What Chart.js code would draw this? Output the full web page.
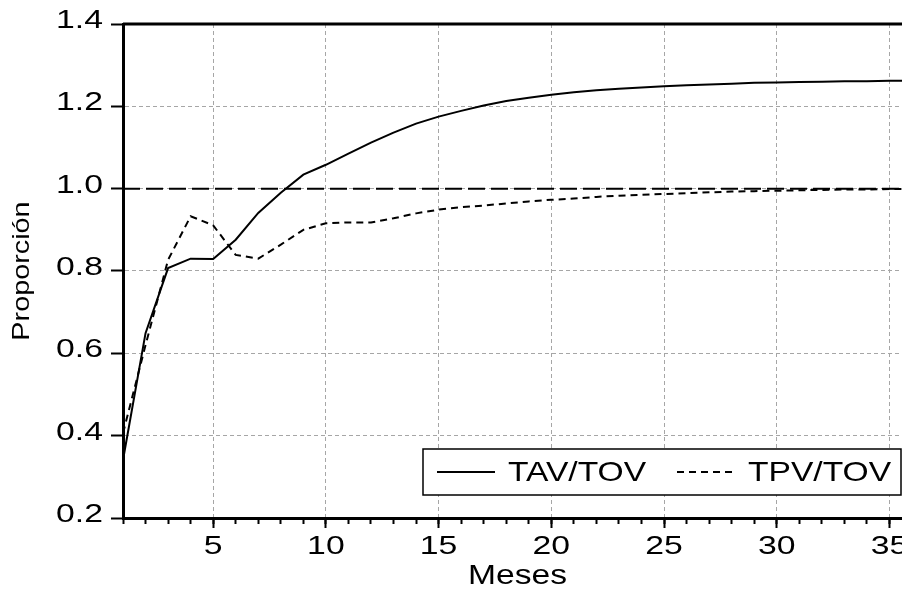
<!DOCTYPE html>
<html>
<head>
<meta charset="utf-8">
<script src="https://cdn.jsdelivr.net/npm/chart.js@4.4.1/dist/chart.umd.min.js"></script>
<style>
    html, body { margin: 0; padding: 0; background: #fff; }
    #wrap { width: 902px; height: 590px; overflow: hidden; }
</style>
</head>
<body>
<div id="wrap"><canvas id="propChart" width="930" height="590"></canvas></div>
<script>
const months = [1, 2, 3, 4, 5, 6, 7, 8, 9, 10, 11, 12, 13, 14, 15, 16, 17, 18,
    19, 20, 21, 22, 23, 24, 25, 26, 27, 28, 29, 30, 31, 32, 33, 34, 35, 36];
const tavTov = [0.341, 0.649, 0.807, 0.830, 0.829, 0.876, 0.941, 0.990, 1.034, 1.058, 1.085, 1.112,
    1.136, 1.158, 1.175, 1.189, 1.202, 1.213, 1.221, 1.228, 1.234, 1.239, 1.243, 1.246,
    1.249, 1.251, 1.253, 1.255, 1.257, 1.258, 1.259, 1.260, 1.261, 1.261, 1.262, 1.262];
const tpvTov = [0.406, 0.620, 0.827, 0.933, 0.911, 0.839, 0.830, 0.864, 0.900, 0.916, 0.918, 0.918,
    0.928, 0.940, 0.949, 0.955, 0.959, 0.964, 0.969, 0.973, 0.976, 0.980, 0.983, 0.985,
    0.987, 0.989, 0.991, 0.993, 0.994, 0.995, 0.996, 0.997, 0.998, 0.998, 0.999, 0.999];
const refLevel = 1.0;
const xMajorTicks = [5, 10, 15, 20, 25, 30, 35];
const yTicks = [0.2, 0.4, 0.6, 0.8, 1.0, 1.2, 1.4];

const FONT = '"Liberation Sans", Arial, sans-serif';
const GRID_GREY = '#a6a6a6';

const toPoints = (vals) => vals.map((v, i) => ({x: months[i], y: v}));

// the series shown in the key (the 1.0 line is left out)
const series = [
    {label: 'TAV/TOV', data: tavTov, dash: []},
    {label: 'TPV/TOV', data: tpvTov, dash: [7, 5]},
];

// glyphs come out wider than plain Arial, so stretch text along its baseline
const wideText = {
    id: 'wideText',
    beforeInit(chart) {
        const ctx = chart.ctx;
        const fill = ctx.fillText.bind(ctx);
        ctx.fillText = function (text, x, y) {
            const m = /(\d+(?:\.\d+)?)px/.exec(ctx.font);
            const size = m ? parseFloat(m[1]) : 12;
            const sx = size === 25 ? 1.35 : 1.2;
            ctx.save();
            ctx.translate(x, y);
            ctx.scale(sx, 1);
            fill(text, 0, 0);
            ctx.restore();
        };
    }
};

// thick top/right frame of the plot area
const frame = {
    id: 'frame',
    afterDraw(chart) {
        const {ctx, chartArea: a} = chart;
        ctx.save();
        ctx.strokeStyle = '#000';
        ctx.lineWidth = 3;
        ctx.beginPath();
        ctx.moveTo(a.left, a.top);
        ctx.lineTo(a.right, a.top);
        ctx.lineTo(a.right, a.bottom);
        ctx.stroke();
        ctx.restore();
    }
};

// boxed key inside the plot, lower right
const insideKey = {
    id: 'insideKey',
    afterDraw(chart) {
        const {ctx, chartArea: a} = chart;
        const w = 478, h = 46;
        const right = a.right - 11;
        const bottom = a.bottom - 23;
        const left = right - w, top = bottom - h;
        ctx.save();
        ctx.fillStyle = '#fff';
        ctx.fillRect(left, top, w, h);
        ctx.strokeStyle = '#000';
        ctx.lineWidth = 1.5;
        ctx.strokeRect(left, top, w, h);
        const cy = top + h / 2;
        ctx.font = '28px ' + FONT;
        ctx.textBaseline = 'middle';
        ctx.textAlign = 'left';
        ctx.fillStyle = '#000';
        series.forEach((s, i) => {
            const x0 = left + 14 + i * 240;
            ctx.lineWidth = 2;
            ctx.setLineDash(s.dash);
            ctx.beginPath();
            ctx.moveTo(x0, cy);
            ctx.lineTo(x0 + 58, cy);
            ctx.stroke();
            ctx.setLineDash([]);
            ctx.fillText(s.label, x0 + 71, cy + 1);
        });
        ctx.restore();
    }
};

const datasets = series.map(s => ({
    label: s.label,
    data: toPoints(s.data),
    borderColor: '#000',
    borderWidth: 2,
    borderDash: s.dash,
    pointRadius: 0,
    tension: 0,
}));
datasets.push({
    label: 'ref',
    data: months.map(m => ({x: m, y: refLevel})),
    borderColor: '#000',
    borderWidth: 2,
    borderDash: [17, 6],
    pointRadius: 0,
});

const config = {
    type: 'line',
    data: {datasets: datasets},
    plugins: [wideText, frame, insideKey],
    options: {
        responsive: false,
        animation: false,
        devicePixelRatio: 1,
        layout: {padding: {top: 24, right: 18, left: 0, bottom: 0}},
        plugins: {
            legend: {display: false},
            tooltip: {enabled: false},
        },
        scales: {
            x: {
                type: 'linear',
                position: 'bottom',
                min: months[0],
                max: months[months.length - 1],
                afterBuildTicks: (s) => { s.ticks = xMajorTicks.map(v => ({value: v})); },
                afterFit: (s) => { s.height = 72; },
                ticks: {
                    color: '#000',
                    padding: 4,
                    maxRotation: 0,
                    font: {family: FONT, size: 25},
                },
                grid: {
                    color: GRID_GREY,
                    lineWidth: 1,
                    tickColor: '#000',
                    tickWidth: 2,
                    tickLength: 10,
                },
                border: {color: '#000', width: 3, dash: [4, 3]},
                title: {
                    display: true,
                    text: 'Meses',
                    color: '#000',
                    padding: {top: 0, bottom: 0},
                    font: {family: FONT, size: 28, lineHeight: 1},
                },
            },
            xMinor: {
                type: 'linear',
                position: 'bottom',
                weight: -1,
                min: months[0],
                max: months[months.length - 1],
                afterBuildTicks: (s) => { s.ticks = months.map(v => ({value: v})); },
                afterFit: (s) => { s.height = 0; },
                ticks: {display: false},
                grid: {
                    drawOnChartArea: false,
                    tickColor: '#000',
                    tickWidth: 2,
                    tickLength: 6,
                },
                border: {display: false},
            },
            y: {
                min: yTicks[0],
                max: yTicks[yTicks.length - 1],
                afterBuildTicks: (s) => { s.ticks = yTicks.map(v => ({value: v})); },
                afterFit: (s) => { s.width = 123; },
                ticks: {
                    color: '#000',
                    padding: 8,
                    labelOffset: -3,
                    font: {family: FONT, size: 25},
                    callback: (v) => v.toFixed(1),
                },
                grid: {
                    color: GRID_GREY,
                    lineWidth: 1,
                    tickColor: '#000',
                    tickWidth: 2,
                    tickLength: 12,
                },
                border: {color: '#000', width: 3, dash: [4, 3]},
                title: {
                    display: true,
                    text: 'Proporción',
                    color: '#000',
                    padding: {top: 8, bottom: 0},
                    font: {family: FONT, size: 24},
                },
            },
        },
    },
};

const propChart = new Chart(document.getElementById('propChart'), config);
</script>
</body>
</html>
